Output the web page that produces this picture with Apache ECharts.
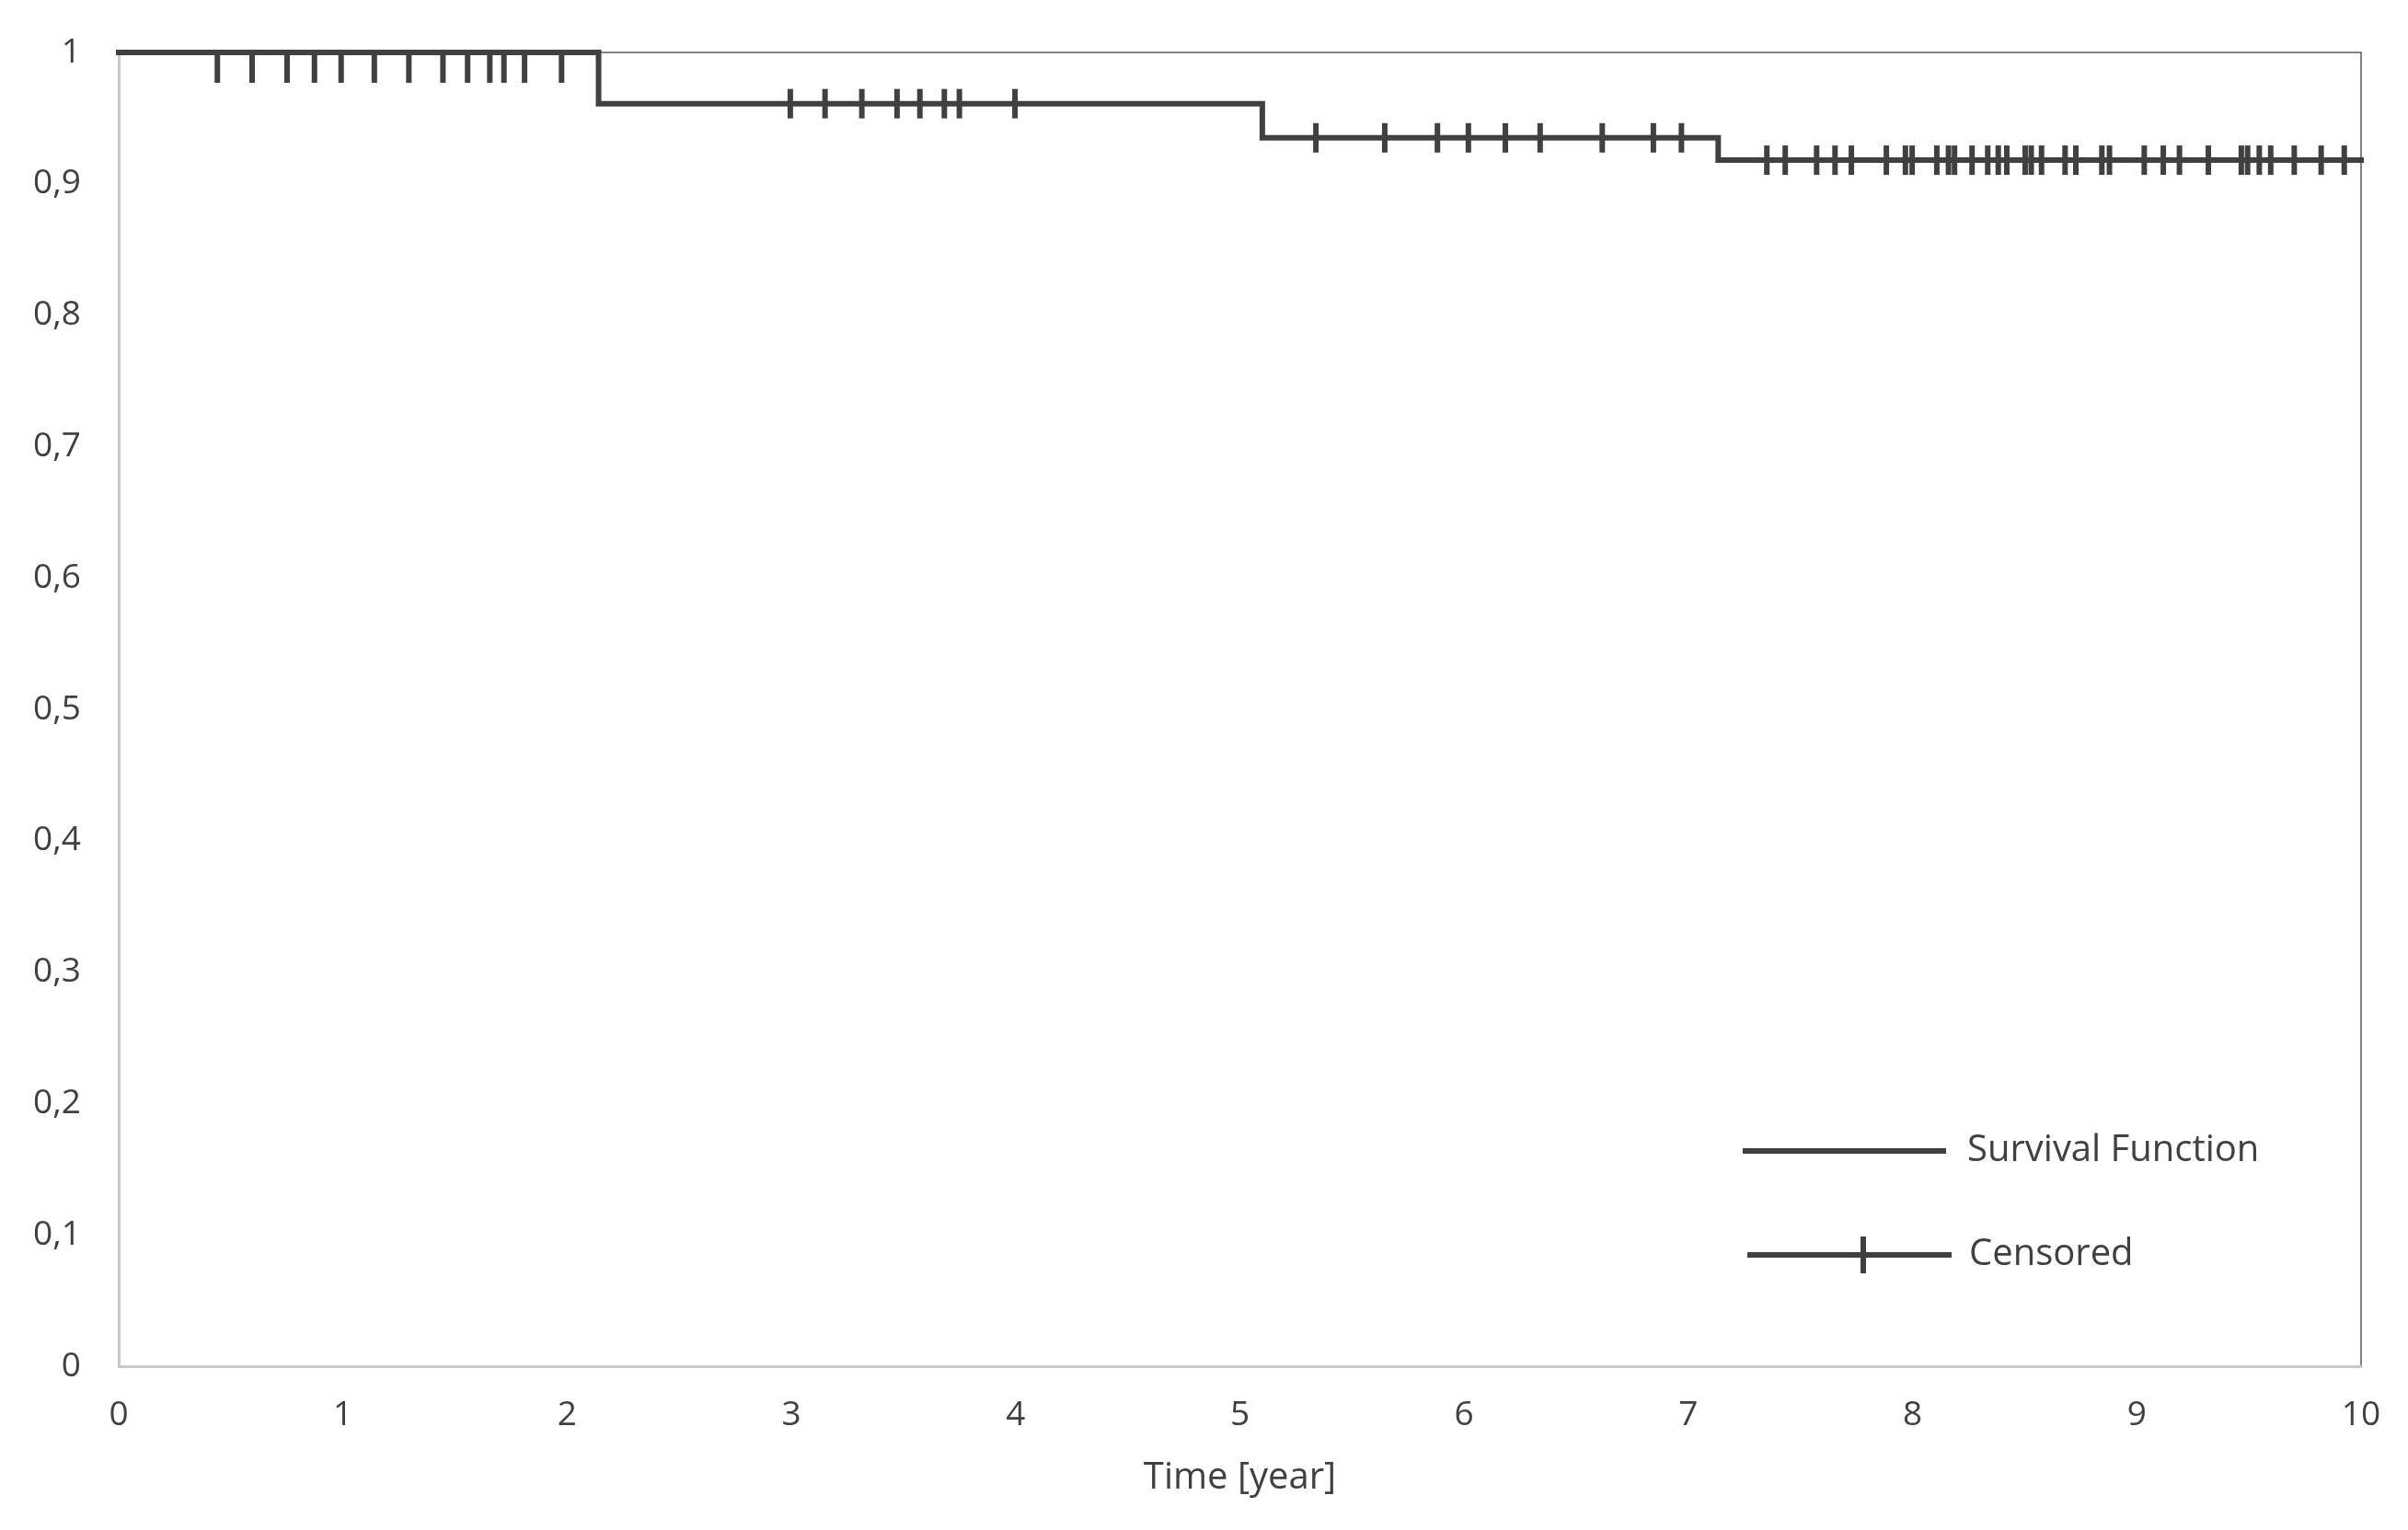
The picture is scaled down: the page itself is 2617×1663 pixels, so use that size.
<!DOCTYPE html>
<html>
<head>
<meta charset="utf-8">
<script src="https://cdn.jsdelivr.net/npm/echarts@6/dist/echarts.min.js"></script>
<style>
html,body{margin:0;padding:0;background:#fff;}
#chart{width:2617px;height:1663px;}
</style>
</head>
<body>
<div id="chart"></div>
<script>
// Kaplan-Meier step function (event times and survival after each)
const stepTimes = [0, 2.14, 5.10, 7.133, 10];
const survival = [1, 0.961, 0.935, 0.918, 0.918];

// Censored observation times (years)
const censoredTimes = [
  0.44, 0.595, 0.751, 0.873, 0.992, 1.140, 1.294, 1.446, 1.556, 1.655, 1.718, 1.810, 1.975,
  2.995, 3.150, 3.314, 3.471, 3.573, 3.682, 3.749, 3.997,
  5.339, 5.646, 5.881, 6.019, 6.184, 6.339, 6.616, 6.844, 6.969,
  7.350, 7.432, 7.572, 7.654, 7.727, 7.883, 7.968, 7.998, 8.108, 8.160, 8.187, 8.265,
  8.335, 8.382, 8.420, 8.502, 8.529, 8.575, 8.680, 8.728, 8.844, 8.878, 9.033, 9.118,
  9.190, 9.319, 9.466, 9.494, 9.546, 9.597, 9.702, 9.822, 9.925
];

const xTicks = [0, 1, 2, 3, 4, 5, 6, 7, 8, 9, 10];
const yTicks = [0, 0.1, 0.2, 0.3, 0.4, 0.5, 0.6, 0.7, 0.8, 0.9, 1];

const seriesNames = ['Survival Function', 'Censored'];
const xAxisTitle = 'Time [year]';

function survAt(t) {
  let s = survival[0];
  for (let i = 0; i < stepTimes.length; i++) {
    if (stepTimes[i] <= t) s = survival[i];
  }
  return s;
}

const C = '#404040';
const FONT = '"Open Sans", sans-serif';

const censoredData = censoredTimes.map(t => {
  const y = survAt(t);
  const item = { value: [t, y] };
  if (y >= 1) {
    item.symbolOffset = [0, 18];
    item.symbolSize = [6, 30];
  }
  return item;
});

const chart = echarts.init(document.getElementById('chart'), null, { renderer: 'canvas' });
chart.setOption({
  animation: false,
  backgroundColor: '#ffffff',
  grid: {
    left: 129, right: 51, top: 57, bottom: 178,
    show: true, borderColor: '#595959', borderWidth: 1.5, backgroundColor: 'transparent'
  },
  xAxis: {
    type: 'value', min: 0, max: 10, interval: 1,
    name: xAxisTitle, nameLocation: 'middle', nameGap: 102,
    nameTextStyle: { fontFamily: FONT, fontSize: 40, color: C },
    axisLine: { show: true, lineStyle: { color: '#c8c8c8', width: 3 } },
    axisTick: { show: false },
    splitLine: { show: false },
    axisLabel: {
      margin: 35, fontFamily: FONT, fontSize: 37, color: C,
      formatter: v => xTicks.includes(v) ? String(v) : ''
    }
  },
  yAxis: {
    type: 'value', min: 0, max: 1, interval: 0.1,
    axisLine: { show: true, lineStyle: { color: '#c8c8c8', width: 3 } },
    axisTick: { show: false },
    splitLine: { show: false },
    axisLabel: {
      margin: 41, fontFamily: FONT, fontSize: 37, color: C,
      formatter: v => {
        const r = Math.round(v * 10) / 10;
        return yTicks.some(t => Math.abs(t - r) < 1e-9) ? String(r).replace('.', ',') : '';
      }
    }
  },
  legend: [
    {
      data: [{ name: seriesNames[0], icon: 'path://M0,0H221V6H0Z', itemStyle: { opacity: 1 } }],
      left: 1894, top: 1231, padding: 0,
      itemWidth: 221, itemHeight: 6,
      textStyle: { fontFamily: FONT, fontSize: 40, color: C, padding: [0, 0, 0, 18] }
    },
    {
      data: [{ name: seriesNames[1], icon: 'path://M0,17H222V23H0Z M123,0H129V40H123Z', itemStyle: { opacity: 1, color: C } }],
      left: 1899, top: 1344, padding: 0,
      itemWidth: 222, itemHeight: 40,
      textStyle: { fontFamily: FONT, fontSize: 40, color: C, padding: [0, 0, 0, 14] }
    }
  ],
  series: [
    {
      name: seriesNames[0],
      type: 'line',
      step: 'end',
      showSymbol: false,
      data: stepTimes.map((t, i) => [t, survival[i]]),
      lineStyle: { color: C, width: 6, cap: 'square', join: 'miter' },
      itemStyle: { color: C },
      z: 3
    },
    {
      name: seriesNames[1],
      type: 'scatter',
      symbol: 'rect',
      symbolSize: [6, 32],
      data: censoredData,
      itemStyle: { color: C, opacity: 1 },
      clip: false,
      z: 4
    }
  ]
});
</script>
</body>
</html>
